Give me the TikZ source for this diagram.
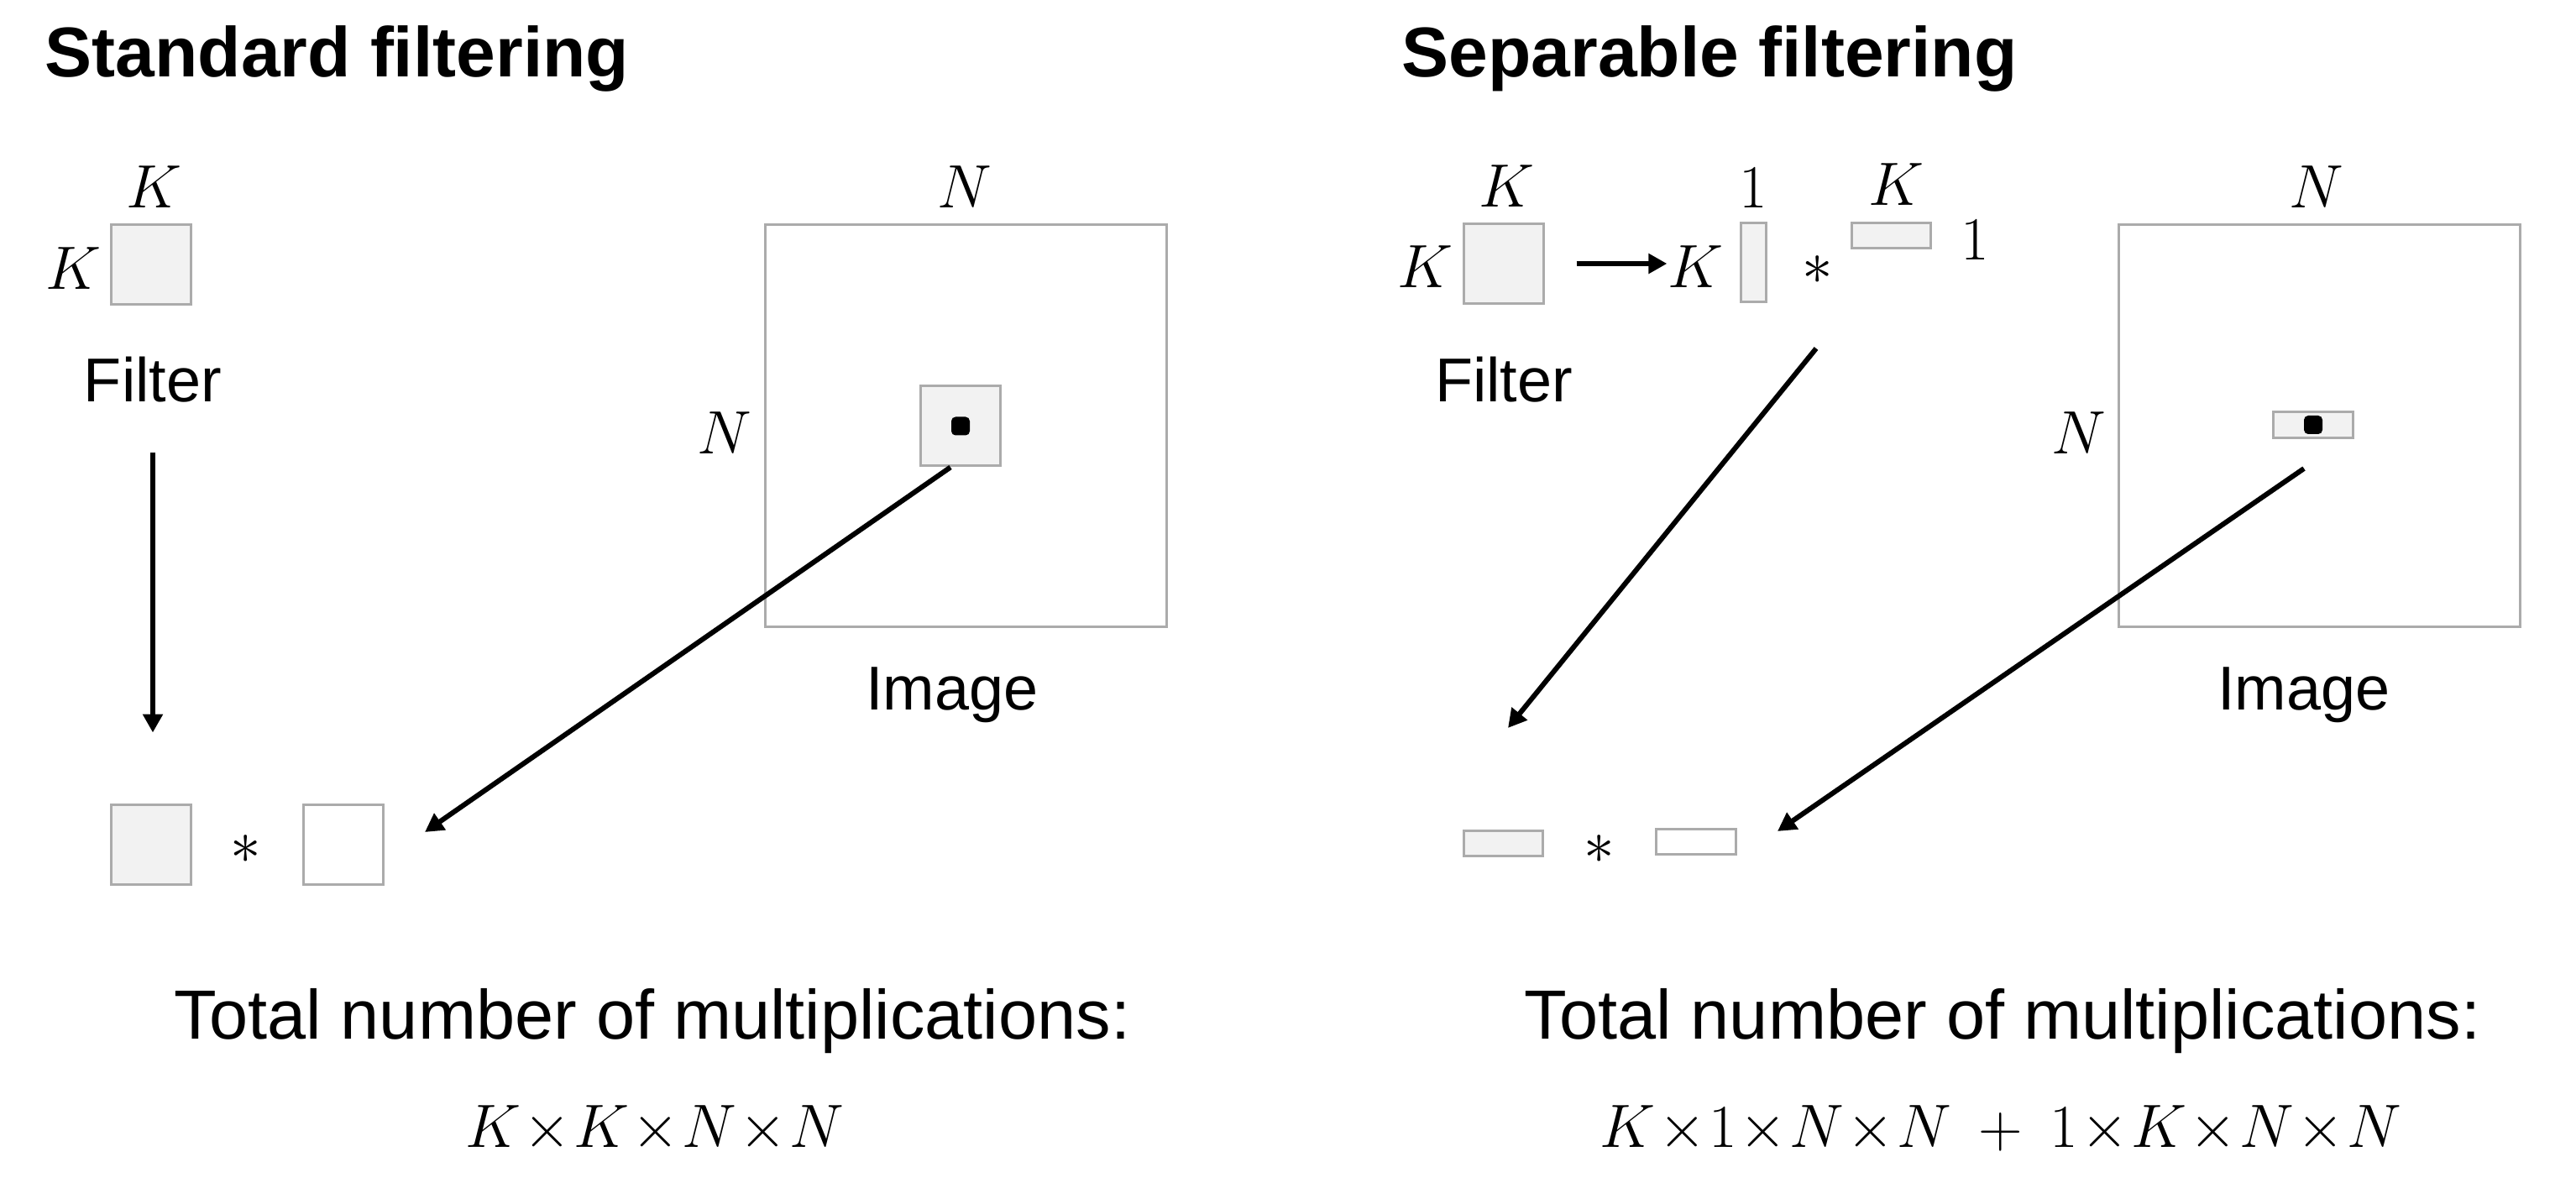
\documentclass[tikz,border=0pt]{standalone}
\usepackage[no-math]{fontspec}
\newfontfamily\labelfont{Liberation Sans}
\usepackage{tikz}
\usetikzlibrary{arrows.meta,calc,positioning}
\definecolor{boxgray}{RGB}{171,171,171}
\definecolor{boxfill}{RGB}{242,242,242}
\newcommand{\xx}{\mkern0.8mu{\times}\mkern0.8mu}

\begin{document}
\begin{tikzpicture}[
      gbox/.style={rectangle, draw=boxgray, fill=boxfill, line width=0.03cm, inner sep=0pt},
      wbox/.style={gbox, fill=white},
      dot/.style={rectangle, rounded corners=0.05cm, fill=black, minimum size=0.22cm, inner sep=0pt},
      sym/.style={inner sep=0pt, anchor=base, font=\fontsize{22.8}{27}\selectfont},
      txt/.style={inner sep=0pt, anchor=base, font=\labelfont\fontsize{21}{25}\selectfont},
      big/.style={inner sep=0pt, anchor=base, font=\labelfont\fontsize{23.6}{28}\selectfont},
      ttl/.style={inner sep=0pt, anchor=base west, font=\labelfont\bfseries\fontsize{23.9}{28}\selectfont},
      arr/.style={-{Triangle[width=0.23cm, length=0.22cm]}, line width=0.06cm, color=black}
    ]
      \useasboundingbox (0,0) rectangle (30.68,14.02);

      % Left: standard filtering
      \node[ttl] (ttl1) at (0.53,13.10) {Standard filtering};
      \node[gbox, minimum size=0.95cm] (kern1) at (1.80,10.87) {};
      \node[sym] (k1top) at (1.83,11.54) {$K$};
      \node[sym] (k1left) at (0.87,10.57) {$K$};
      \node[txt] (filt1) at (1.82,9.23) {Filter};

      \node[wbox, minimum size=4.78cm] (img1) at (11.505,8.95) {};
      \node[sym] (n1top) at (11.49,11.54) {$N$};
      \node[sym] (n1left) at (8.63,8.62) {$N$};
      \node[gbox, minimum size=0.95cm] (patch1) at (11.44,8.945) {};
      \node[dot] (px1) at (patch1) {};
      \node[txt] (imgl1) at (11.34,5.57) {Image};

      \node[gbox, minimum size=0.95cm] (fcopy1) at (1.80,3.965) {};
      \node[sym, anchor=center] (op1) at (2.93,3.90) {$*$};
      \node[wbox, minimum size=0.95cm] (icopy1) at (4.085,3.965) {};

      \node[big] (tot1) at (7.77,1.65) {Total number of multiplications:};
      \node[sym] (cnt1) at (7.80,0.36) {$K\xx K\xx N\xx N$};

      \draw[arr, shorten <=0.59cm, shorten >=0.84cm] (filt1.south) -- (filt1.south |- fcopy1.north);
      \draw[arr] ($(patch1.south)+(-0.12,0)$) -- ($(icopy1.east)+(0.485,0.145)$);

      % Right: separable filtering
      \node[ttl] (ttl2) at (16.69,13.10) {Separable filtering};
      \node[gbox, minimum size=0.95cm] (kern2) at (17.905,10.88) {};
      \node[sym] (k2top) at (17.94,11.55) {$K$};
      \node[sym] (k2left) at (16.97,10.59) {$K$};
      \node[sym] (kmid) at (20.19,10.59) {$K$};
      \node[gbox, minimum width=0.30cm, minimum height=0.94cm] (colk) at (20.88,10.89) {};
      \node[sym] (onetop) at (20.88,11.54) {$1$};
      \node[sym, anchor=center] (op2) at (21.65,10.80) {$*$};
      \node[gbox, minimum width=0.94cm, minimum height=0.30cm] (rowk) at (22.52,11.21) {};
      \node[sym] (k3top) at (22.58,11.57) {$K$};
      \node[sym] (oneright) at (23.52,10.92) {$1$};
      \node[txt] (filt2) at (17.91,9.23) {Filter};

      \node[wbox, minimum size=4.78cm] (img2) at (27.62,8.95) {};
      \node[sym] (n2top) at (27.59,11.54) {$N$};
      \node[sym] (n2left) at (24.76,8.62) {$N$};
      \node[gbox, minimum width=0.95cm, minimum height=0.31cm] (patch2) at (27.55,8.96) {};
      \node[dot] (px2) at (patch2) {};
      \node[txt] (imgl2) at (27.44,5.57) {Image};

      \node[gbox, minimum width=0.94cm, minimum height=0.30cm] (fcopy2) at (17.90,3.975) {};
      \node[sym, anchor=center] (op3) at (19.05,3.90) {$*$};
      \node[wbox, minimum width=0.95cm, minimum height=0.30cm] (icopy2) at (20.20,3.995) {};

      \node[big] (tot2) at (23.85,1.65) {Total number of multiplications:};
      \node[sym] (cnt2) at (23.83,0.36) {$K\xx 1\xx N\xx N\mkern4mu+\mkern4mu1\xx K\xx N\xx N$};

      \draw[arr, shorten <=0.38cm] (kern2.east) -- (kern2.east -| kmid.west);
      \draw[arr] ($(op2.center)+(-0.02,-0.93)$) -- ($(fcopy2.north)+(0.06,1.21)$);
      \draw[arr] ($(patch2.south)+(-0.11,-0.35)$) -- ($(icopy2.east)+(0.48,0.125)$);
    \end{tikzpicture}
\end{document}
